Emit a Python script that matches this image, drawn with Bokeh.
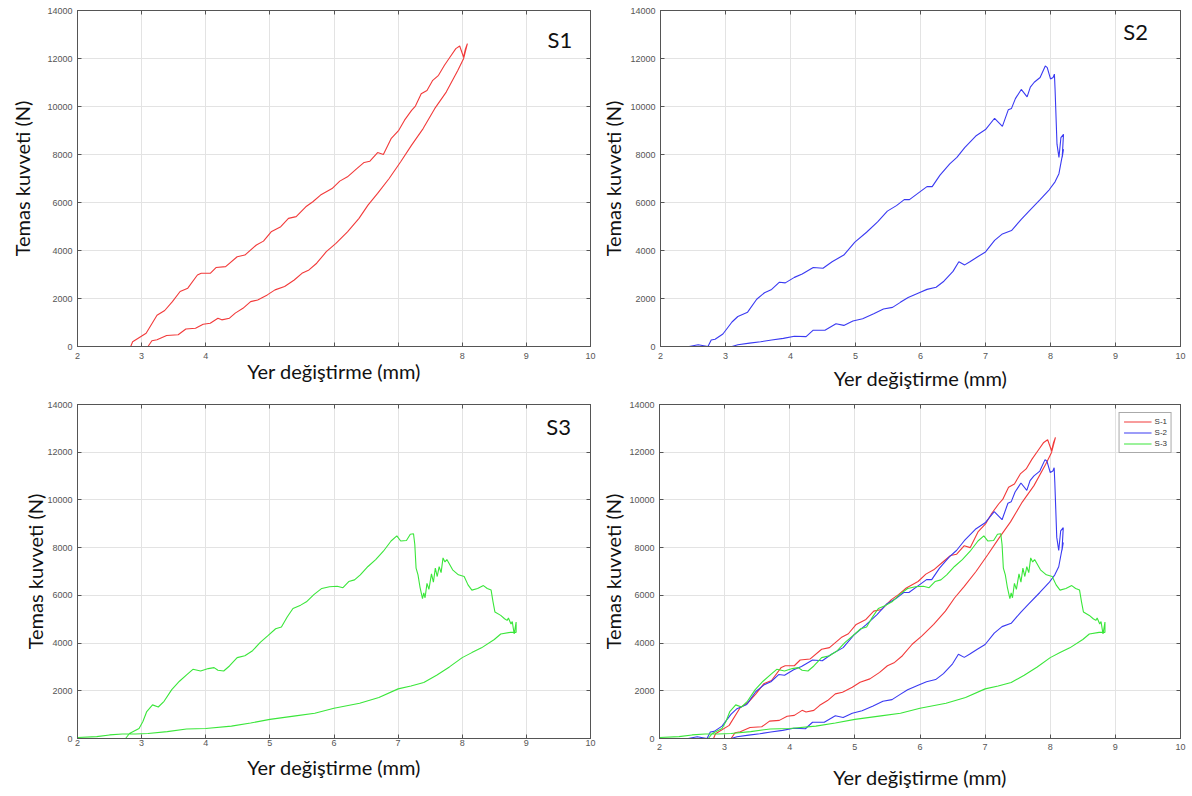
from bokeh.plotting import figure
from bokeh.models import Range1d, LinearAxis, FixedTicker, Label, Legend, LegendItem
from bokeh.layouts import column, row
from bokeh.embed import file_html
from bokeh.resources import INLINE

# ---------------- data ----------------
X_TICKS = [2, 3, 4, 5, 6, 7, 8, 9, 10]
Y_TICKS = [0, 2000, 4000, 6000, 8000, 10000, 12000, 14000]
X_LABEL = "Yer değiştirme (mm)"
Y_LABEL = "Temas kuvveti (N)"
SERIES_NAMES = ["S-1", "S-2", "S-3"]
PANEL_TAGS = ["S1", "S2", "S3"]

s1_load_x = [2.59, 2.83, 2.86, 3.07, 3.24, 3.36, 3.48, 3.60, 3.72, 3.87, 3.93, 4.07, 4.16, 4.31, 4.49, 4.61,
             4.79, 4.90, 5.02, 5.17, 5.29, 5.41, 5.56, 5.67, 5.79, 5.97, 6.09, 6.21, 6.36, 6.47, 6.56, 6.68,
             6.77, 6.89, 7.01, 7.10, 7.21, 7.27, 7.36, 7.45, 7.54, 7.63, 7.72, 7.81, 7.90, 7.96, 7.99, 8.02,
             8.05, 8.08, 8.02]
s1_load_y = [0, 0, 200, 550, 1300, 1500, 1870, 2290, 2430, 2980, 3050, 3050, 3290, 3330, 3740, 3810,
             4230, 4390, 4780, 4990, 5340, 5410, 5820, 6030, 6310, 6580, 6890, 7070, 7420, 7670, 7720, 8080,
             8000, 8660, 9010, 9430, 9840, 10020, 10530, 10670, 11090, 11300, 11710, 12060, 12410, 12520, 12290, 12060,
             12400, 12620, 11990]
s1_unload_x = [7.93, 7.75, 7.57, 7.39, 7.21, 7.04, 6.86, 6.68, 6.53, 6.39, 6.21, 6.03, 5.88, 5.73, 5.61, 5.50,
               5.38, 5.23, 5.08, 4.96, 4.81, 4.70, 4.58, 4.46, 4.37, 4.25, 4.19, 4.07, 3.96, 3.84, 3.69, 3.57,
               3.39, 3.24, 3.16, 3.10]
s1_unload_y = [11500, 10600, 9910, 9080, 8390, 7700, 7000, 6380, 5890, 5340, 4780, 4300, 3950, 3470, 3190, 3050,
               2770, 2500, 2360, 2150, 1940, 1870, 1590, 1390, 1180, 1110, 1180, 970, 930, 760, 730, 490,
               460, 280, 240, 0]

s2_load_x = [2.44, 2.58, 2.73, 2.78, 2.84, 2.96, 3.10, 3.19, 3.34, 3.48, 3.60, 3.71, 3.83, 3.92, 4.06, 4.18,
             4.35, 4.50, 4.64, 4.82, 4.99, 5.17, 5.34, 5.49, 5.63, 5.75, 5.83, 5.98, 6.10, 6.18, 6.30, 6.45,
             6.56, 6.68, 6.85, 7.00, 7.14, 7.26, 7.35, 7.40, 7.46, 7.55, 7.64, 7.69, 7.75, 7.84, 7.92, 7.95,
             8.00, 8.04, 8.06, 8.07, 8.10, 8.13, 8.16, 8.20, 8.18, 8.20]
s2_load_y = [0, 70, 0, 270, 300, 520, 1020, 1250, 1430, 1970, 2240, 2380, 2680, 2650, 2880, 3020,
             3290, 3260, 3530, 3810, 4350, 4760, 5190, 5640, 5870, 6120, 6120, 6420, 6660, 6660, 7140, 7610,
             7880, 8290, 8770, 9040, 9510, 9170, 9860, 9920, 10330, 10710, 10400, 10810, 11010, 11210, 11690, 11620,
             11150, 11210, 11350, 10740, 8430, 7880, 8700, 8840, 7880, 8220]
s2_unload_x = [8.13, 8.07, 7.98, 7.84, 7.67, 7.55, 7.40, 7.26, 7.14, 7.00, 6.88, 6.76, 6.68, 6.59, 6.50, 6.36,
               6.24, 6.10, 5.98, 5.81, 5.69, 5.57, 5.43, 5.28, 5.11, 4.96, 4.82, 4.70, 4.53, 4.35, 4.24, 4.06,
               3.89, 3.71, 3.54, 3.37, 3.19, 3.10]
s2_unload_y = [7200, 6860, 6530, 6120, 5640, 5300, 4830, 4690, 4420, 3940, 3740, 3530, 3400, 3530, 3130, 2720,
               2470, 2380, 2240, 2040, 1840, 1630, 1560, 1360, 1160, 1060, 880, 950, 680, 680, 410, 430,
               340, 270, 200, 140, 70, 0]

s3_load_x = [2.75, 2.81, 2.96, 3.02, 3.08, 3.17, 3.26, 3.35, 3.47, 3.59, 3.71, 3.80, 3.92, 4.04, 4.13, 4.19,
             4.28, 4.37, 4.49, 4.61, 4.73, 4.85, 4.97, 5.09, 5.18, 5.27, 5.36, 5.48, 5.57, 5.69, 5.81, 5.93,
             6.05, 6.14, 6.23, 6.32, 6.41, 6.53, 6.65, 6.77, 6.89, 6.98, 7.04, 7.13, 7.19, 7.24, 7.26, 7.28,
             7.31, 7.34, 7.38, 7.40, 7.42, 7.45, 7.48, 7.52, 7.55, 7.58, 7.61, 7.64, 7.67, 7.70, 7.73, 7.76,
             7.85, 7.94, 8.03, 8.09, 8.15, 8.24, 8.33, 8.39, 8.45, 8.48, 8.51, 8.60, 8.66, 8.70, 8.72, 8.76,
             8.78, 8.81, 8.84, 8.84]
s3_load_y = [0, 210, 420, 710, 1130, 1410, 1320, 1560, 2050, 2400, 2690, 2900, 2830, 2930, 2970, 2860,
             2830, 3040, 3390, 3470, 3680, 4030, 4310, 4600, 4670, 5090, 5450, 5590, 5730, 6040, 6290, 6360,
             6380, 6320, 6580, 6650, 6860, 7210, 7500, 7850, 8280, 8490, 8280, 8300, 8560, 8580, 8130, 7140,
             6860, 6360, 5860, 6100, 5900, 6500, 6250, 6900, 6550, 7140, 6790, 7200, 6950, 7570, 7400, 7500,
             7070, 6860, 6790, 6440, 6220, 6290, 6410, 6290, 6220, 5730, 5300, 5160, 5020, 4950, 5050, 4800,
             4900, 4380, 4880, 4450]
s3_unload_x = [8.75, 8.60, 8.50, 8.30, 8.15, 8.00, 7.80, 7.60, 7.40, 7.20, 7.00, 6.70, 6.40, 6.00, 5.70, 5.40,
               5.00, 4.70, 4.40, 4.00, 3.70, 3.40, 3.10, 2.90, 2.70, 2.50, 2.30, 2.00]
s3_unload_y = [4450, 4380, 4150, 3800, 3600, 3390, 3000, 2650, 2350, 2200, 2080, 1720, 1480, 1270, 1060, 950,
               800, 650, 520, 420, 400, 290, 210, 190, 190, 150, 80, 40]

COLORS = ["#f23a3a", "#3a3af2", "#3ae63a"]

SERIES = [
    (s1_load_x + s1_unload_x, s1_load_y + s1_unload_y),
    (s2_load_x + s2_unload_x, s2_load_y + s2_unload_y),
    (s3_load_x + s3_unload_x, s3_load_y + s3_unload_y),
]

# caption positions in data units (x, y) for the S1/S2/S3 tags
TAG_POS = [(9.33, 12790), (9.12, 13140), (9.31, 13080)]

FONT = "Lato"
TICK_FONT = "Liberation Sans"
AX_COLOR = "#555555"


def make_panel(w, h, bl, br, bt, bb, ylab_standoff, xlab_standoff, xtick_standoff, hide_x=()):
    p = figure(width=w, height=h, x_range=Range1d(2, 10), y_range=Range1d(0, 14000),
               output_backend="svg", toolbar_location=None,
               min_border_left=bl, min_border_right=br, min_border_top=bt, min_border_bottom=bb,
               background_fill_color="white", border_fill_color="white",
               outline_line_color=AX_COLOR, outline_line_width=1)
    p.xaxis.ticker = FixedTicker(ticks=X_TICKS)
    p.yaxis.ticker = FixedTicker(ticks=Y_TICKS)
    p.xgrid.ticker = FixedTicker(ticks=X_TICKS)
    p.ygrid.ticker = FixedTicker(ticks=Y_TICKS)
    for g in (p.xgrid, p.ygrid):
        g.grid_line_color = "#e3e3e3"
        g.grid_line_width = 1
    for ax in (p.xaxis, p.yaxis):
        ax.major_tick_in = 4
        ax.major_tick_out = 0
        ax.minor_tick_line_color = None
        ax.axis_line_color = AX_COLOR
        ax.major_tick_line_color = AX_COLOR
        ax.major_label_text_font = TICK_FONT
        ax.major_label_text_font_size = "9px"
        ax.major_label_text_color = "#555555"
        ax.axis_label_text_font = FONT
        ax.axis_label_text_font_size = "20px"
        ax.axis_label_text_font_style = "normal"
        ax.axis_label_text_color = "#111111"
    p.xaxis.axis_label = X_LABEL
    p.yaxis.axis_label = Y_LABEL
    p.yaxis.major_label_standoff = 5
    p.xaxis.major_label_standoff = xtick_standoff
    p.yaxis.axis_label_standoff = ylab_standoff
    p.xaxis.axis_label_standoff = xlab_standoff
    p.yaxis.formatter.use_scientific = False
    if hide_x:
        p.xaxis.major_label_overrides = {v: "" for v in hide_x}
    # inward ticks on the top and right edges (MATLAB box style), no labels drawn
    for loc, ticks in (("above", X_TICKS), ("right", Y_TICKS)):
        ax = LinearAxis(ticker=FixedTicker(ticks=ticks), major_tick_in=4, major_tick_out=0,
                        minor_tick_line_color=None, axis_line_color=AX_COLOR,
                        major_tick_line_color=AX_COLOR, major_label_text_font_size="1px",
                        major_label_text_color=None, major_label_standoff=0, axis_label=None)
        p.add_layout(ax, loc)
    return p


def add_tag(p, idx):
    x, y = TAG_POS[idx]
    p.add_layout(Label(x=x, y=y, text=PANEL_TAGS[idx], text_font=FONT, text_font_size="22px",
                       text_color="#111111", text_align="left", text_baseline="alphabetic"))


# column 1: width 598, frame 77..590 ; column 2: width 592, frame 655..1180
# row 1: height 392, frame 10..348 ; row 2: height 402, frame 404..738
pa = make_panel(598, 392, 77, 8, 10, 44, 10, -3, 6, hide_x=(5, 6, 7))
xs, ys = SERIES[0]
pa.line(xs, ys, line_color=COLORS[0], line_width=1.1)
add_tag(pa, 0)

pb = make_panel(592, 392, 57, 10, 10, 44, 2, 4, 6)
xs, ys = SERIES[1]
pb.line(xs, ys, line_color=COLORS[1], line_width=1.1)
add_tag(pb, 1)

pc = make_panel(598, 402, 77, 8, 12, 56, -3, 6, 1)
xs, ys = SERIES[2]
pc.line(xs, ys, line_color=COLORS[2], line_width=1.1)
add_tag(pc, 2)

pd = make_panel(592, 402, 57, 10, 12, 56, 1, 12, 5)
items = []
for i, (xs, ys) in enumerate(SERIES):
    r = pd.line(xs, ys, line_color=COLORS[i], line_width=1.1)
    items.append(LegendItem(label=SERIES_NAMES[i], renderers=[r]))
legend = Legend(items=items, location="top_right", margin=8, padding=4, spacing=2,
                label_text_font=TICK_FONT, label_text_font_size="8px", label_text_color="#333333",
                label_height=9, label_width=12, glyph_height=9, glyph_width=28, label_standoff=3,
                border_line_color=AX_COLOR, border_line_width=1, background_fill_alpha=1.0)
pd.add_layout(legend)

layout = column(row(pa, pb), row(pc, pd))

html = file_html(layout, INLINE)
open("out.html", "w").write(html)
